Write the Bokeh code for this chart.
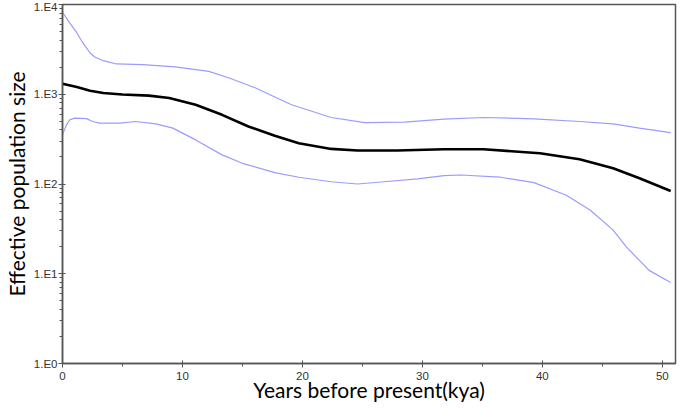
from bokeh.plotting import figure
from bokeh.models import Range1d, FixedTicker, CustomJSTickFormatter
from bokeh.embed import file_html
from bokeh.resources import INLINE

# Data (years before present in kya, effective population size)
upper_x = [0, 0.6, 1.2, 1.7, 2.3, 2.7, 3.4, 4.5, 6.7, 9.4, 12.2, 13.9, 16.1, 17.7,
           19.1, 22.4, 25.2, 28.5, 31.8, 35.1, 39.3, 43.1, 45.9, 48.1, 50.7]
upper_y = [8200, 6240, 4820, 3730, 2885, 2600, 2365, 2175, 2135, 2015, 1800, 1517,
           1172, 930, 764, 551, 484, 489, 528, 551, 533, 497, 468, 419, 374]

median_x = [0, 1.2, 2.3, 3.4, 5.0, 7.2, 8.9, 11.1, 13.3, 15.5, 17.7, 19.7, 22.4,
            24.6, 27.9, 31.8, 35.1, 39.8, 43.1, 45.9, 48.1, 50.7]
median_y = [1310, 1203, 1094, 1031, 995, 965, 907, 764, 590, 437, 344, 285, 246,
            236, 236, 244, 244, 220, 189, 150, 116, 83.5]

lower_x = [0, 0.33, 0.6, 1.0, 2.0, 2.5, 3.1, 4.75, 6.1, 7.8, 9.2, 11.1, 13.3, 15.0,
           17.7, 19.7, 22.4, 24.6, 26.8, 29.6, 31.8, 33.2, 36.5, 39.3, 42.0, 44.0,
           45.9, 47.0, 48.9, 50.7]
lower_y = [353, 456, 519, 542, 535, 497, 477, 477, 497, 468, 419, 310, 211, 170,
           134, 119, 106, 100, 106, 114, 124, 126, 119, 103.5, 75, 51, 30.6, 19.9,
           10.9, 8.0]

x_ticks = [0, 10, 20, 30, 40, 50]
x_minor = [5, 15, 25, 35, 45]
y_ticks = [1, 10, 100, 1000, 10000]
y_minor = [m * d for d in [1, 10, 100, 1000] for m in range(2, 10)]

x_label = "Years before present(kya)"
y_label = "Effective population size"

p = figure(width=677, height=404, output_backend="svg", toolbar_location=None,
           y_axis_type="log", x_range=Range1d(0, 51.1), y_range=Range1d(1, 10000),
           min_border_left=0, min_border_right=2, min_border_top=4,
           min_border_bottom=0)
p.grid.visible = False
p.background_fill_color = "white"
p.border_fill_color = "white"
p.outline_line_color = "#555555"
p.outline_line_width = 1.5

blue = "#9b9bff"
p.line(upper_x, upper_y, line_color=blue, line_width=1.2)
p.line(lower_x, lower_y, line_color=blue, line_width=1.2)
p.line(median_x, median_y, line_color="black", line_width=2.6)

p.xaxis.ticker = FixedTicker(ticks=x_ticks, minor_ticks=x_minor)
p.yaxis.ticker = FixedTicker(ticks=y_ticks, minor_ticks=y_minor)
p.yaxis.formatter = CustomJSTickFormatter(code="return '1.E' + Math.round(Math.log10(tick));")

for ax in (p.xaxis[0], p.yaxis[0]):
    ax.axis_line_color = "#555555"
    ax.axis_line_width = 1.5
    ax.major_tick_line_color = "#555555"
    ax.minor_tick_line_color = "#555555"
    ax.major_tick_in = 3
    ax.major_tick_out = 4
    ax.minor_tick_in = 0
    ax.minor_tick_out = 3
    ax.major_label_text_font = "Liberation Sans"
    ax.major_label_text_font_size = "11.5px"
    ax.major_label_text_color = "#333333"
    ax.major_label_text_line_height = 1.0
    ax.axis_label_text_font = "Lato"
    ax.axis_label_text_font_size = "21px"
    ax.axis_label_text_font_style = "normal"
    ax.axis_label_text_color = "black"
    ax.axis_label_text_line_height = 1.0

p.xaxis.axis_label = x_label
p.yaxis.axis_label = y_label
p.xaxis.major_label_standoff = 4
p.yaxis.major_label_standoff = 1
p.xaxis.axis_label_standoff = -6
p.yaxis.axis_label_standoff = 2

open("out.html", "w").write(file_html(p, INLINE))
